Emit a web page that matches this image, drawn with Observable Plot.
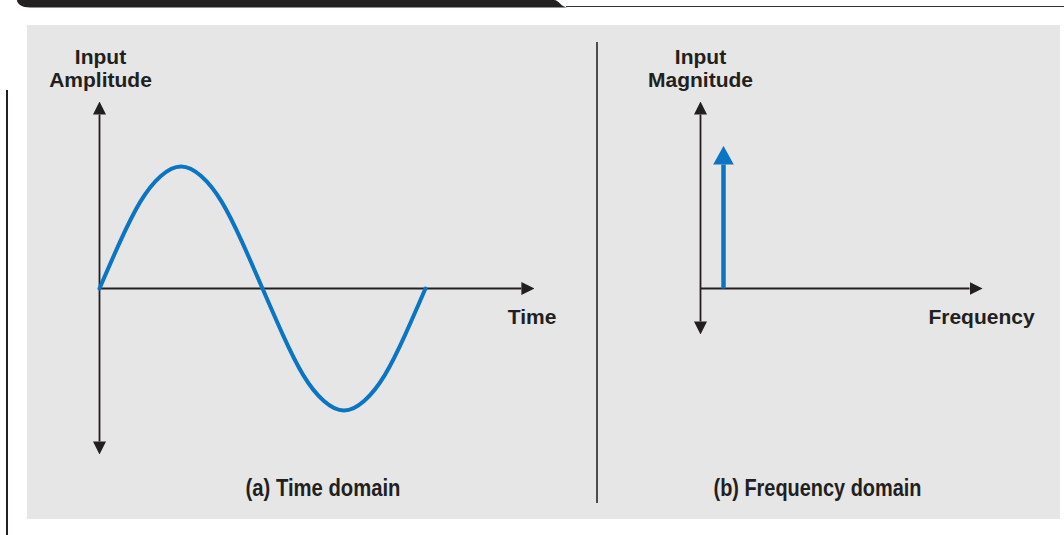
<!DOCTYPE html>
<html><head><meta charset="utf-8">
<script src="https://cdn.jsdelivr.net/npm/d3@7"></script>
<script src="https://cdn.jsdelivr.net/npm/@observablehq/plot@0.6"></script>
<style>
html,body{margin:0;padding:0;background:#fff;}
#wrap{position:relative;width:1064px;height:535px;overflow:hidden;background:#fff;}
.abs{position:absolute;}
</style></head><body>
<div id="wrap">
  <svg class="abs" style="left:0;top:0" width="1064" height="12">
    <path d="M17,0H554C559,0,561,7.5,568,7.5H30C22,7.5,17,4,17,0Z" fill="#231f20"/>
    <path d="M566,6.5H1064" stroke="#333" stroke-width="1"/>
  </svg>
  <div class="abs" style="left:27px;top:25px;width:1033px;height:494px;background:#e6e6e6"></div>
  <div class="abs" style="left:6px;top:90px;width:2px;height:445px;background:#231f20"></div>
  <div class="abs" style="left:596px;top:42px;width:2px;height:461px;background:#4d4d4d"></div>
  <div id="left" class="abs" style="left:0;top:0"></div>
  <div id="right" class="abs" style="left:597px;top:0"></div>
</div>
<script>
// ---- data ----
const timeValues = [0, 0.0625, 0.125, 0.1875, 0.25, 0.3125, 0.375, 0.4375, 0.5, 0.5625, 0.625, 0.6875, 0.75, 0.8125, 0.875, 0.9375, 1];
const amplitudeValues = [0, 0.38, 0.71, 0.92, 1.0, 0.92, 0.71, 0.38, 0, -0.38, -0.71, -0.92, -1.0, -0.92, -0.71, -0.38, 0];
const timeAxisExtent = [0, 1.294];
const amplitudeAxisExtent = [-1.254, 1.426];
const frequencyValues = [1];
const magnitudeValues = [1];
const frequencyAxisExtent = [0, 11.7];
const magnitudeAxisExtent = [-0.266, 1.403];
const panelCaptions = ["(a) Time domain", "(b) Frequency domain"];
const captionWidths = [155, 208];
const yAxisTitles = ["Input\nAmplitude", "Input\nMagnitude"];
const xAxisTitles = ["Time", "Frequency"];

const ink = "#231f20";
const blue = "#0a75c2";
const labelFont = "'Liberation Sans', Arial, Helvetica, sans-serif";
const NS = "http://www.w3.org/2000/svg";

function arrowHead(len, wid) {
  return (color, context) => {
    const doc = (context && context.document) || document;
    const m = doc.createElementNS(NS, "marker");
    m.setAttribute("viewBox", `0 0 ${len} ${wid}`);
    m.setAttribute("markerWidth", len);
    m.setAttribute("markerHeight", wid);
    m.setAttribute("refX", 0);
    m.setAttribute("refY", wid / 2);
    m.setAttribute("orient", "auto-start-reverse");
    m.setAttribute("markerUnits", "userSpaceOnUse");
    const p = doc.createElementNS(NS, "path");
    p.setAttribute("d", `M0,0L${len},${wid / 2}L0,${wid}Z`);
    p.setAttribute("fill", color);
    p.setAttribute("stroke", "none");
    m.appendChild(p);
    return m;
  };
}
const axisHead = arrowHead(13, 13);
const stemHead = arrowHead(18.6, 20.6);

const textBase = {fontFamily: labelFont, fontSize: 21, fontWeight: "bold", fill: ink};
const captionBase = {fontFamily: labelFont, fontSize: 24, fontWeight: "bold", fill: ink};

function condenseCaption(svg, caption, width) {
  svg.querySelectorAll("text").forEach(t => {
    if (t.textContent === caption) {
      t.setAttribute("textLength", width);
      t.setAttribute("lengthAdjust", "spacingAndGlyphs");
    }
  });
}

// ---- left: time domain ----
const sine = timeValues.map((t, i) => ({t, a: amplitudeValues[i]}));
const leftPlot = Plot.plot({
  width: 597, height: 535, margin: 0,
  x: {domain: [0, 1], range: [99, 425], axis: null},
  y: {domain: [-1, 1], range: [410, 166], axis: null},
  style: {background: "transparent", overflow: "visible", fontFamily: labelFont},
  marks: [
    Plot.link([{x1: timeAxisExtent[0], x2: timeAxisExtent[1], y: 0}],
      {x1: "x1", x2: "x2", y1: "y", y2: "y", stroke: ink, strokeWidth: 1.8, markerEnd: axisHead}),
    Plot.link([{x: 0, y1: amplitudeAxisExtent[0], y2: amplitudeAxisExtent[1]}],
      {x1: "x", x2: "x", y1: "y1", y2: "y2", stroke: ink, strokeWidth: 1.8, markerStart: axisHead, markerEnd: axisHead}),
    Plot.line(sine, {x: "t", y: "a", curve: "natural", stroke: blue, strokeWidth: 4}),
    Plot.text([{t: 0, a: amplitudeAxisExtent[1]}],
      {x: "t", y: "a", text: () => yAxisTitles[0], lineAnchor: "top", lineHeight: 1.1, dx: 1, dy: -67, ...textBase}),
    Plot.text([{t: timeAxisExtent[1], a: 0}],
      {x: "t", y: "a", text: () => xAxisTitles[0], textAnchor: "end", lineAnchor: "top", dx: 35, dy: 21, ...textBase}),
    Plot.text([panelCaptions[0]],
      {frameAnchor: "bottom", text: d => d, lineAnchor: "top", dx: 24, dy: -57, ...captionBase})
  ]
});
condenseCaption(leftPlot, panelCaptions[0], captionWidths[0]);
document.getElementById("left").appendChild(leftPlot);

// ---- right: frequency domain ----
const spectrum = frequencyValues.map((f, i) => ({f, m: magnitudeValues[i]}));
const rightPlot = Plot.plot({
  width: 467, height: 535, margin: 0,
  x: {domain: [0, 1], range: [103, 126], axis: null},
  y: {domain: [0, 1], range: [288, 164], axis: null},
  style: {background: "transparent", overflow: "visible", fontFamily: labelFont},
  marks: [
    Plot.link([{x1: frequencyAxisExtent[0], x2: frequencyAxisExtent[1], y: 0}],
      {x1: "x1", x2: "x2", y1: "y", y2: "y", stroke: ink, strokeWidth: 1.8, markerEnd: axisHead}),
    Plot.link([{x: 0, y1: magnitudeAxisExtent[0], y2: magnitudeAxisExtent[1]}],
      {x1: "x", x2: "x", y1: "y1", y2: "y2", stroke: ink, strokeWidth: 1.8, markerStart: axisHead, markerEnd: axisHead}),
    Plot.link(spectrum, {x1: "f", x2: "f", y1: 0, y2: "m", stroke: blue, strokeWidth: 4.5, markerEnd: stemHead}),
    Plot.text([{f: 0, m: magnitudeAxisExtent[1]}],
      {x: "f", y: "m", text: () => yAxisTitles[1], lineAnchor: "top", lineHeight: 1.1, dx: 0, dy: -67, ...textBase}),
    Plot.text([{f: frequencyAxisExtent[1], m: 0}],
      {x: "f", y: "m", text: () => xAxisTitles[1], textAnchor: "end", lineAnchor: "top", dx: 65, dy: 21, ...textBase}),
    Plot.text([panelCaptions[1]],
      {frameAnchor: "bottom", text: d => d, lineAnchor: "top", dx: -13.5, dy: -57, ...captionBase})
  ]
});
condenseCaption(rightPlot, panelCaptions[1], captionWidths[1]);
document.getElementById("right").appendChild(rightPlot);
</script>
</body></html>
